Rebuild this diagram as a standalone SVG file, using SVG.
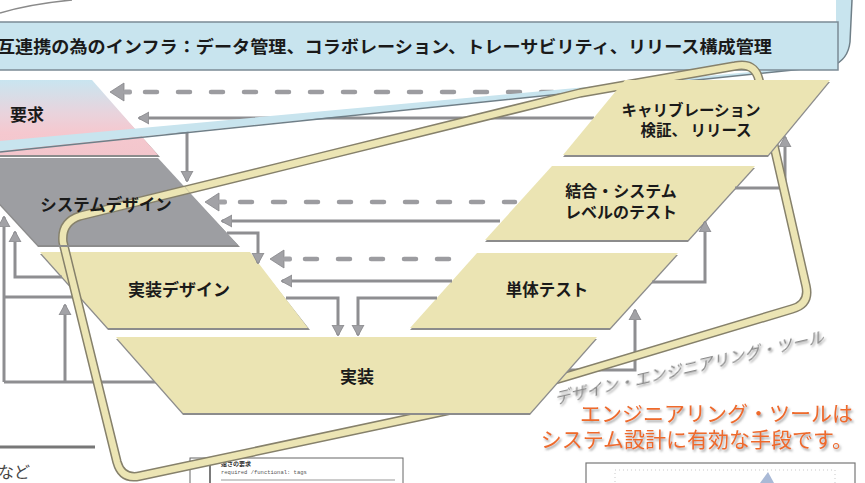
<svg xmlns="http://www.w3.org/2000/svg" xmlns:xlink="http://www.w3.org/1999/xlink" width="865" height="483" viewBox="0 0 865 483">
<defs>
<style>
.lbl{font-family:"Noto Sans CJK JP","Noto Sans",sans-serif;font-weight:bold;fill:#1a1a1a;text-anchor:middle}
.yel{fill:#ebe4b3}
.shd{fill:#8c8c8c}
.ln{fill:none;stroke:#8e8e91;stroke-width:3}
.ds{fill:none;stroke:#9c9ca0;stroke-width:4.5;stroke-linecap:round;stroke-dasharray:12 21}
.hd{fill:#a2a2a6;stroke:#858589;stroke-width:0.8}
.org{font-family:"Noto Sans CJK JP",sans-serif;font-size:21px;fill:#ee6a2c;text-anchor:end}
.bo{fill:none;stroke:#86816b;stroke-width:9.5;stroke-linejoin:round}
.bi{fill:none;stroke:#ece5b4;stroke-width:6.5;stroke-linejoin:round}
</style>
<linearGradient id="req" x1="0" y1="0" x2="0" y2="1">
<stop offset="0" stop-color="#c9e5f0"/>
<stop offset="0.45" stop-color="#e9d3dc"/>
<stop offset="0.7" stop-color="#f5c8cf"/>
<stop offset="1" stop-color="#f3c6cc"/>
</linearGradient>
<marker id="ah" markerWidth="12" markerHeight="14" refX="10" refY="7" orient="auto" markerUnits="userSpaceOnUse">
<path d="M0,1 L11,7 L0,13 Z" class="hd"/>
</marker>
<filter id="tsh" x="-5%" y="-20%" width="110%" height="150%">
<feDropShadow dx="1.5" dy="2" stdDeviation="1.2" flood-color="#777" flood-opacity="0.7"/>
</filter>
<path id="loopd" d="M735,66 Q755,62 759,80 L806,286 Q810,304 792,309 L565,377 L450,410 L140,476 Q122,480 117,462 L63,242 Q61,222 80,216 L300,162 L580,93 Z"/>
<clipPath id="sysclip"><polygon points="-42,158 158,158 238,245 38,245"/></clipPath>
</defs>
<rect width="865" height="483" fill="#ffffff"/>

<!-- top-left fragment -->
<path d="M0,13 Q30,4 72,0" fill="none" stroke="#8a8a8a" stroke-width="1.5"/>

<!-- nodes (lower layer) -->
<g id="req-node">
<polygon points="-5,82 92,82 160,157 -5,157" class="shd"/>
<polygon points="-5,80 92,80 158,155 -5,155" fill="url(#req)"/>
<text x="27" y="121" class="lbl" font-size="17">要求</text>
</g>
<g id="impldesign">
<polygon points="40,254 250,254 310,330 108,330" class="shd"/>
<polygon points="40,252 250,252 308,328 108,328" class="yel"/>
<text x="179" y="296" class="lbl" font-size="17">実装デザイン</text>
</g>
<g id="unittest">
<polygon points="477,255 678,255 610,330 410,330" class="shd"/>
<polygon points="477,253 678,253 610,328 410,328" class="yel"/>
<text x="547" y="296" class="lbl" font-size="16.5">単体テスト</text>
</g>
<g id="integtest">
<polygon points="552,168 755,168 688,242 485,242" class="shd"/>
<polygon points="552,166 755,166 688,240 485,240" class="yel"/>
<text x="621" y="197" class="lbl" font-size="16">結合・システム</text>
<text x="621" y="218" class="lbl" font-size="16">レベルのテスト</text>
</g>

<!-- connectors -->
<g id="connectors">
<line x1="145" y1="92" x2="600" y2="92" class="ds"/>
<path d="M110,92 L124,83 L124,101 Z" class="hd"/><rect x="123" y="89.5" width="9" height="5" rx="2" fill="#a2a2a6"/>
<line x1="240" y1="202" x2="515" y2="202" class="ds"/>
<path d="M205,202 L219,193 L219,211 Z" class="hd"/><rect x="218" y="199.5" width="9" height="5" rx="2" fill="#a2a2a6"/>
<line x1="305" y1="259" x2="462" y2="259" class="ds"/>
<path d="M270,259 L284,250 L284,268 Z" class="hd"/><rect x="283" y="256.5" width="9" height="5" rx="2" fill="#a2a2a6"/>
<path d="M594,118 H139" class="ln" marker-end="url(#ah)"/>
<path d="M500,221 H222" class="ln" marker-end="url(#ah)"/>
<path d="M452,281 H282" class="ln" marker-end="url(#ah)"/>
<path d="M138,132 H187 V181" class="ln" marker-end="url(#ah)"/>
<path d="M227,233 H258 V263" class="ln" marker-end="url(#ah)"/>
<path d="M286,298 H338 V335" class="ln" marker-end="url(#ah)"/>
<path d="M437,298 H358 V335" class="ln" marker-end="url(#ah)"/>
<path d="M568,370 H635 V310" class="ln" marker-end="url(#ah)"/>
<path d="M652,282 H705 V222" class="ln" marker-end="url(#ah)"/>
<path d="M735,188 H785 V137" class="ln" marker-end="url(#ah)"/>
<path d="M4,382 V217" class="ln" marker-end="url(#ah)"/>
<path d="M4,297 H80" class="ln"/>
<path d="M4,382 H156" class="ln"/>
<path d="M62,277 H15 V232" class="ln" marker-end="url(#ah)"/>
<path d="M65,382 V305" class="ln" marker-end="url(#ah)"/>
</g>

<!-- callout banner and tail -->
<g id="infra">
<path d="M0,141 L836,64 L836,0 L852,0 L850,42 Q848,60 832,66 L0,151 Z" fill="#c8e4ee"/>
<path d="M852,0 L850,42 Q848,60 832,66 L0,152" fill="none" stroke="#6f7f88" stroke-width="1.5"/>
<rect x="-5" y="22" width="843" height="48" fill="#c8e4ee" stroke="#7b8b95" stroke-width="1.5"/>
<text x="-3" y="53" font-family="'Noto Sans CJK JP',sans-serif" font-weight="bold" font-size="17" fill="#1a1a1a" textLength="775" lengthAdjust="spacingAndGlyphs">互連携の為のインフラ：データ管理、コラボレーション、トレーサビリティ、リリース構成管理</text>
</g>

<!-- bottom fragments -->
<line x1="0" y1="447" x2="95" y2="447" stroke="#777" stroke-width="3"/>
<text x="-2" y="478" font-family="'Noto Sans CJK JP',sans-serif" font-size="16" fill="#444">など</text>
<g id="thumb-left">
<rect x="190" y="458" width="213" height="30" fill="#fff" stroke="#666" stroke-width="1"/>
<line x1="210" y1="458" x2="210" y2="483" stroke="#222" stroke-width="1.2"/>
<text x="221" y="466" font-family="'Noto Sans CJK JP',sans-serif" font-size="6" font-weight="bold" fill="#333">速さの要求</text>
<text x="221" y="474" font-family="'Liberation Mono',monospace" font-size="5.5" fill="#555">required /functional: tags</text>
<line x1="221" y1="480" x2="395" y2="480" stroke="#bbb" stroke-width="1.5"/>
</g>
<g id="thumb-right">
<rect x="586" y="463" width="269" height="30" fill="#fff" stroke="#777" stroke-width="1.2"/>
<rect x="615" y="470" width="220" height="20" fill="none" stroke="#bbb" stroke-width="0.8" stroke-dasharray="1 3"/>
<path d="M760,483 L768,472 L774,483 Z" fill="#a9b9d6"/>
</g>

<!-- design engineering tool loop -->
<g id="tool-loop">
<use xlink:href="#loopd" href="#loopd" class="bo"/>
<use xlink:href="#loopd" href="#loopd" class="bi"/>
</g>

<!-- nodes (upper layer) -->
<g id="sysdesign">
<polygon points="-42,160 158,160 240,247 38,247" class="shd"/>
<polygon points="-42,158 158,158 238,245 38,245" fill="#9d9ea2"/>
<g clip-path="url(#sysclip)">
<use xlink:href="#loopd" href="#loopd" class="bo"/>
<use xlink:href="#loopd" href="#loopd" class="bi"/>
</g>
<text x="106" y="211" class="lbl" font-size="16.5">システムデザイン</text>
</g>
<g id="calib">
<polygon points="625,82 830,82 768,157 563,157" class="shd"/>
<polygon points="625,80 830,80 768,155 563,155" class="yel"/>
<text x="691" y="116" class="lbl" font-size="15.5">キャリブレーション</text>
<text x="696" y="136" class="lbl" font-size="15.5">検証、 リリース</text>
</g>
<g id="impl">
<polygon points="116,339 597,339 530,415 183,415" class="shd"/>
<polygon points="116,337 597,337 530,413 183,413" class="yel"/>
<text x="357" y="383" class="lbl" font-size="17">実装</text>
</g>

<!-- tool label -->
<g id="tool-label">
<text transform="translate(556,404) rotate(-13) skewX(-14)" x="0" y="0" font-family="'Noto Sans CJK JP',sans-serif" font-size="15.5" fill="#8a8a8a" filter="url(#tsh)" textLength="276" lengthAdjust="spacingAndGlyphs">デザイン・エンジニアリング・ツール</text>
</g>

<g id="note" filter="url(#tsh)">
<text x="853" y="421" class="org">エンジニアリング・ツールは</text>
<text x="853" y="447" class="org">システム設計に有効な手段です。</text>
</g>
</svg>
